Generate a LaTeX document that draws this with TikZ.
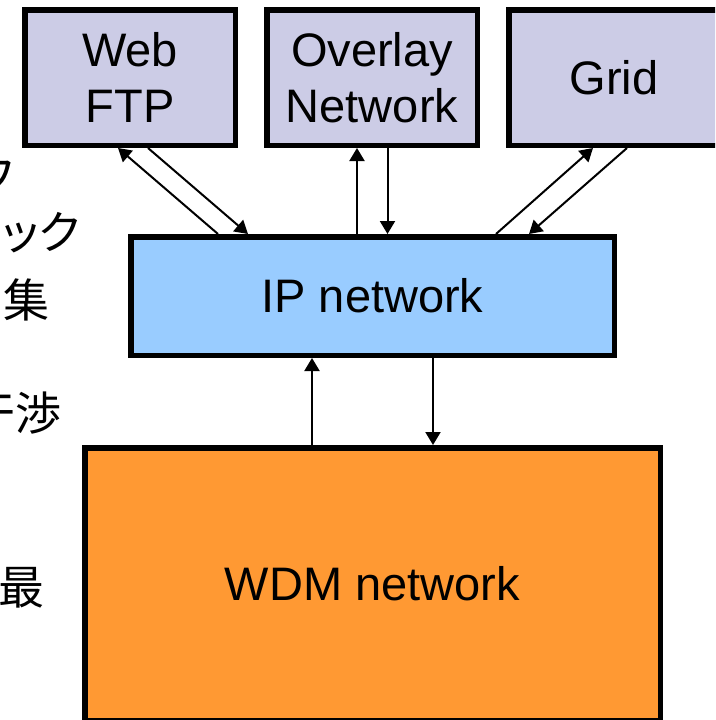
\documentclass[tikz,border=0pt]{standalone}
\usepackage{fontspec}
\setmainfont{Liberation Sans}
\newfontfamily\jpfont[RawFeature={+palt}]{Noto Sans CJK JP}
\usetikzlibrary{arrows.meta}
\definecolor{appfill}{RGB}{204,204,230}
\definecolor{ipfill}{RGB}{153,204,255}
\definecolor{wdmfill}{RGB}{255,153,51}
\tikzset{
  layer/.style={draw=black, line width=5.5pt, rectangle, inner sep=0pt, align=center,
    font=\fontsize{47}{56}\selectfont},
  appbox/.style={layer, fill=appfill, minimum width=210.5pt, minimum height=135.5pt},
  link/.style={line width=2pt, -{Triangle[length=13pt,width=15pt]}},
  jptext/.style={anchor=east, inner sep=0pt, font=\jpfont\fontsize{46}{50}\selectfont}
}
\begin{document}
\begin{tikzpicture}[x=1pt, y=-1pt]
\useasboundingbox (0,0) rectangle (715,720);
\clip (0,0) rectangle (715,720);

% application layer
\node[appbox] (web) at (130,77.5) {Web\\FTP};
\node[appbox] (overlay) at (372,77.5) {Overlay\\Network};
\node[appbox] (grid) at (614,77.5) {Grid};

% transport layers
\node[layer, fill=ipfill, minimum width=483.5pt, minimum height=118.5pt] (ip) at (372.5,296) {IP network};
\node[layer, fill=wdmfill, minimum width=575.5pt, minimum height=272.5pt] (wdm) at (372.5,584) {WDM network};

% connections between the applications and IP
\draw[link] ([xshift=-154.5pt]ip.north) -- ([xshift=-12pt]web.south);
\draw[link] ([xshift=18pt]web.south) -- ([xshift=-124.5pt]ip.north);
\draw[link] ([xshift=-15.5pt]ip.north) -- ([xshift=-15pt]overlay.south);
\draw[link] ([xshift=15.5pt]overlay.south) -- ([xshift=15pt]ip.north);
\draw[link] ([xshift=123.5pt]ip.north) -- ([xshift=-21pt]grid.south);
\draw[link] ([xshift=13pt]grid.south) -- ([xshift=156.5pt]ip.north);

% connections between IP and WDM
\draw[link] ([xshift=-60.5pt]wdm.north) -- ([xshift=-60.5pt]ip.south);
\draw[link] ([xshift=60.5pt]ip.south) -- ([xshift=60.5pt]wdm.north);

% side text
\node[jptext] (t1) at (14,178) {フ};
\node[jptext] (t2) at (80,233) {ニック};
\node[jptext] (t3) at (50,300) {集};
\node[jptext] (t4) at (62,413) {干渉};
\node[jptext] (t5) at (45,588) {最};
\end{tikzpicture}
\end{document}
